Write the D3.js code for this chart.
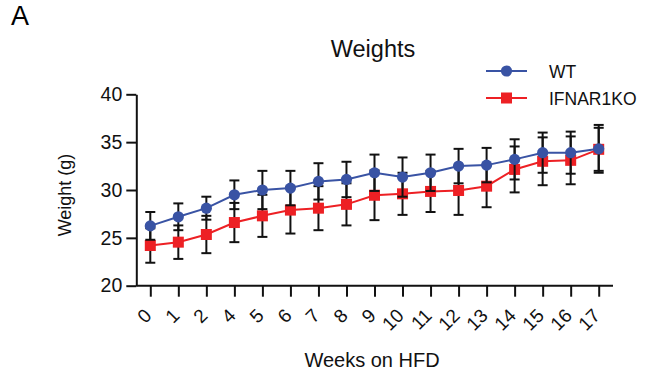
<!DOCTYPE html>
<html>
<head>
<meta charset="utf-8">
<script src="https://cdn.jsdelivr.net/npm/d3@7"></script>
<style>
  html, body { margin: 0; padding: 0; background: #fff; }
  svg { display: block; font-family: "Liberation Sans", Arial, sans-serif; }
</style>
</head>
<body>
<svg id="chart" width="646" height="374"></svg>
<script>
// ---- data ----
const weeks = ["0","1","2","4","5","6","7","8","9","10","11","12","13","14","15","16","17"];
const wtMean = [26.25, 27.2, 28.1, 29.5, 30.0, 30.2, 30.9, 31.1, 31.8, 31.35, 31.8, 32.5, 32.6, 33.2, 33.9, 33.9, 34.3];
const wtErr  = [1.45, 1.4, 1.2, 1.5, 2.0, 1.8, 1.9, 1.85, 1.9, 2.05, 1.9, 1.8, 1.8, 2.1, 2.1, 2.2, 2.5];
const koMean = [24.2, 24.55, 25.35, 26.6, 27.3, 27.9, 28.1, 28.5, 29.45, 29.6, 29.85, 29.95, 30.4, 32.15, 33.0, 33.1, 34.25];
const koErr  = [1.8, 1.75, 1.95, 2.05, 2.2, 2.45, 2.3, 2.2, 2.6, 2.2, 2.15, 2.55, 2.2, 2.4, 2.5, 2.5, 2.25];
const yTicks = [20, 25, 30, 35, 40];
const seriesNames = ["WT", "IFNAR1KO"];

const BLUE = "#3953a4", RED = "#ed2024";
const svg = d3.select("#chart");

const x = d3.scalePoint().domain(weeks).range([150.3, 598.7]);
const y = d3.scaleLinear().domain([20, 40]).range([285.7, 94.3]);
const axisLeftX = 136.3;

// panel letter
svg.append("text").attr("x", 11).attr("y", 25).attr("font-size", 27).text("A");

// title
svg.append("text").attr("x", 373).attr("y", 57).attr("text-anchor", "middle")
  .attr("font-size", 23.5).attr("fill", "#111").text("Weights");

// y axis
const gy = svg.append("g").attr("transform", `translate(${axisLeftX},0)`)
  .call(d3.axisLeft(y).tickValues(yTicks).tickSize(10).tickPadding(4).tickSizeOuter(0));
gy.select(".domain").attr("stroke", "#111").attr("stroke-width", 2);
gy.selectAll(".tick line").attr("stroke", "#111").attr("stroke-width", 2);
gy.selectAll(".tick text").attr("font-size", 19.5).attr("font-family", "Liberation Sans, Arial, sans-serif").attr("fill", "#111");

// x axis
const gx = svg.append("g").attr("transform", `translate(0,${y(20)})`)
  .call(d3.axisBottom(x).tickSize(11).tickSizeOuter(0));
gx.select(".domain").remove();
gx.append("line").attr("x1", axisLeftX).attr("x2", x(weeks[weeks.length-1]) + 14.3)
  .attr("y1", 0).attr("y2", 0).attr("stroke", "#111").attr("stroke-width", 2);
gx.selectAll(".tick line").attr("stroke", "#111").attr("stroke-width", 2);
gx.selectAll(".tick text")
  .attr("font-size", 19).attr("font-family", "Liberation Sans, Arial, sans-serif").attr("fill", "#111")
  .attr("text-anchor", "end").attr("dy", null).attr("y", 0)
  .attr("transform", "translate(2,31) rotate(-45)");

// axis titles
svg.append("text").attr("transform", "translate(71,195) rotate(-90)")
  .attr("text-anchor", "middle").attr("font-size", 18).attr("fill", "#111").text("Weight (g)");
svg.append("text").attr("x", 372).attr("y", 367).attr("text-anchor", "middle")
  .attr("font-size", 20).attr("fill", "#111").text("Weeks on HFD");

// series drawing
function drawSeries(means, errs, color, shape) {
  const g = svg.append("g");
  const line = d3.line().x((d, i) => x(weeks[i])).y(d => y(d));
  g.append("path").datum(means).attr("d", line).attr("fill", "none")
    .attr("stroke", color).attr("stroke-width", 2);
  const eb = g.selectAll(".eb").data(means).enter().append("g");
  eb.append("line").attr("x1", (d, i) => x(weeks[i])).attr("x2", (d, i) => x(weeks[i]))
    .attr("y1", (d, i) => y(d - errs[i])).attr("y2", (d, i) => y(d + errs[i]))
    .attr("stroke", "#111").attr("stroke-width", 2);
  [-1, 1].forEach(s => {
    eb.append("line").attr("x1", (d, i) => x(weeks[i]) - 5).attr("x2", (d, i) => x(weeks[i]) + 5)
      .attr("y1", (d, i) => y(d + s * errs[i])).attr("y2", (d, i) => y(d + s * errs[i]))
      .attr("stroke", "#111").attr("stroke-width", 2);
  });
  if (shape === "circle") {
    g.selectAll(".m").data(means).enter().append("circle")
      .attr("cx", (d, i) => x(weeks[i])).attr("cy", d => y(d)).attr("r", 5.6).attr("fill", color);
  } else {
    g.selectAll(".m").data(means).enter().append("rect")
      .attr("x", (d, i) => x(weeks[i]) - 5.5).attr("y", d => y(d) - 5.5)
      .attr("width", 11).attr("height", 11).attr("fill", color);
  }
}
drawSeries(koMean, koErr, RED, "rect");
drawSeries(wtMean, wtErr, BLUE, "circle");

// legend
const legend = [
  { name: seriesNames[0], color: BLUE, shape: "circle", y: 71 },
  { name: seriesNames[1], color: RED, shape: "rect", y: 98 }
];
legend.forEach(L => {
  svg.append("line").attr("x1", 486).attr("x2", 527).attr("y1", L.y).attr("y2", L.y)
    .attr("stroke", L.color).attr("stroke-width", 2);
  if (L.shape === "circle") {
    svg.append("circle").attr("cx", 506.5).attr("cy", L.y).attr("r", 5.6).attr("fill", L.color);
  } else {
    svg.append("rect").attr("x", 501).attr("y", L.y - 5.5).attr("width", 11).attr("height", 11).attr("fill", L.color);
  }
  svg.append("text").attr("x", 549).attr("y", L.y + 7).attr("font-size", 17.5).attr("fill", "#111").text(L.name);
});
</script>
</body>
</html>
